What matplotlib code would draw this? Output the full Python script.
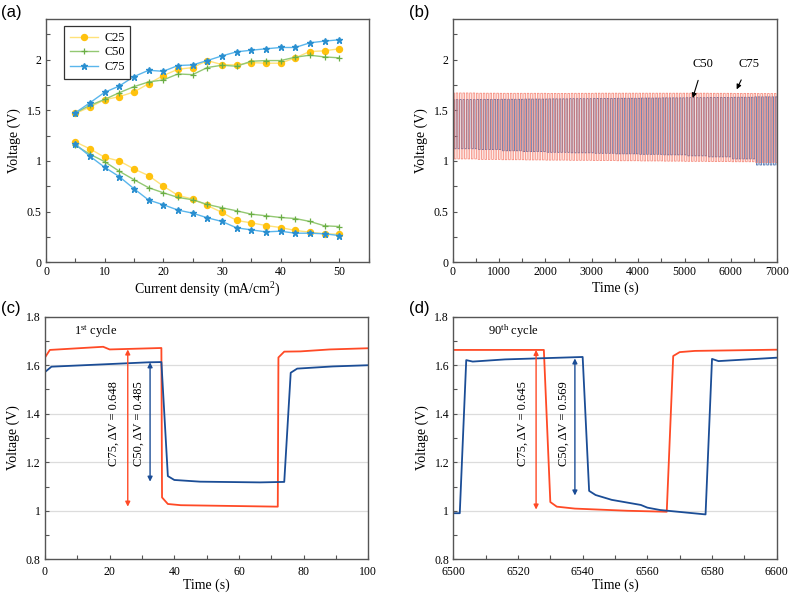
import numpy as np
import matplotlib
matplotlib.use("Agg")
import matplotlib.pyplot as plt
from matplotlib.ticker import MultipleLocator, FuncFormatter

plt.rcParams['font.family'] = ['Liberation Serif', 'DejaVu Serif']
plt.rcParams['mathtext.fontset'] = 'custom'
plt.rcParams['mathtext.rm'] = 'Liberation Serif'
plt.rcParams['mathtext.it'] = 'Liberation Serif:italic'

# ---- (a) polarization data ----
current_density = [5, 7.5, 10, 12.5, 15, 17.5, 20, 22.5, 25, 27.5, 30,
                   32.5, 35, 37.5, 40, 42.5, 45, 47.5, 50]
c25_charge = [1.469, 1.531, 1.604, 1.634, 1.680, 1.762, 1.842, 1.904, 1.921, 1.990,
              1.950, 1.947, 1.970, 1.964, 1.964, 2.017, 2.079, 2.086, 2.106]
c50_charge = [1.475, 1.548, 1.607, 1.673, 1.733, 1.779, 1.799, 1.858, 1.851, 1.921,
              1.944, 1.934, 1.983, 1.990, 1.990, 2.023, 2.043, 2.026, 2.017]
c75_charge = [1.475, 1.574, 1.677, 1.739, 1.832, 1.894, 1.884, 1.941, 1.947, 1.990,
              2.036, 2.076, 2.092, 2.106, 2.119, 2.119, 2.165, 2.182, 2.195]
c25_discharge = [1.188, 1.119, 1.036, 1.000, 0.921, 0.855, 0.752, 0.660, 0.624, 0.561,
                 0.492, 0.413, 0.389, 0.363, 0.343, 0.314, 0.297, 0.281, 0.277]
c50_discharge = [1.155, 1.066, 0.993, 0.898, 0.815, 0.736, 0.686, 0.640, 0.617, 0.571,
                 0.538, 0.508, 0.475, 0.459, 0.442, 0.432, 0.403, 0.360, 0.353]
c75_discharge = [1.165, 1.046, 0.937, 0.845, 0.726, 0.614, 0.568, 0.515, 0.485, 0.439,
                 0.403, 0.340, 0.320, 0.300, 0.307, 0.287, 0.287, 0.281, 0.264]

# ---- (b) long cycling: levels per 500 s block ----
block_start = [0, 500, 1000, 1500, 2000, 2500, 3000, 3500, 4000, 4500,
               5000, 5500, 6000, 6500]
c75_high = [1.670, 1.668, 1.667, 1.667, 1.666, 1.667, 1.668, 1.668, 1.668, 1.668,
            1.668, 1.667, 1.666, 1.665]
c75_low = [1.020, 1.015, 1.012, 1.010, 1.008, 1.006, 1.004, 1.002, 1.000, 0.998,
           0.996, 0.994, 0.992, 0.985]
c50_high = [1.605, 1.607, 1.608, 1.610, 1.612, 1.614, 1.616, 1.618, 1.620, 1.622,
            1.624, 1.626, 1.628, 1.632]
c50_low = [1.120, 1.112, 1.100, 1.092, 1.085, 1.080, 1.075, 1.070, 1.065, 1.060,
           1.050, 1.040, 1.020, 0.960]
c75_half_period = 36.5
c50_half_period = 37.0

# ---- (c) 1st cycle ----
c75_t1 = [0, 1.5, 18, 20, 36, 36.2, 38, 42, 72, 72.2, 74, 79, 88, 100]
c75_v1 = [1.632, 1.663, 1.676, 1.665, 1.671, 1.055, 1.028, 1.023, 1.017, 1.632,
          1.656, 1.657, 1.665, 1.670]
c50_t1 = [0, 2, 32, 36, 38, 40, 48, 66.5, 74, 76, 78, 89, 100]
c50_v1 = [1.572, 1.594, 1.612, 1.613, 1.143, 1.127, 1.120, 1.117, 1.119, 1.569,
          1.586, 1.595, 1.600]

# ---- (d) 90th cycle ----
c75_t90 = [6500, 6528, 6530, 6532, 6537.6, 6554, 6566, 6568, 6570, 6574.7, 6600]
c75_v90 = [1.663, 1.663, 1.036, 1.017, 1.009, 1.000, 0.996, 1.638, 1.654, 1.659, 1.664]
c50_t90 = [6500, 6502, 6504, 6506, 6516, 6540, 6542, 6544, 6549, 6558, 6560, 6564,
           6578, 6580, 6582, 6600]
c50_v90 = [0.990, 0.990, 1.621, 1.615, 1.624, 1.634, 1.082, 1.065, 1.045, 1.024,
           1.013, 1.003, 0.985, 1.626, 1.617, 1.631]

RED = '#ff4a26'
BLUE = '#1b4d96'
SPINE = '#555555'
TICK_FS = 8.5
LAB_FS = 10


def style_axes(ax):
    for s in ax.spines.values():
        s.set_color(SPINE)
        s.set_linewidth(1.0)
    ax.tick_params(which='both', direction='in', length=3, width=0.8,
                   color=SPINE, labelsize=TICK_FS, pad=3)


def square_wave(t_end, half, high, low, start_high=True):
    # build a charge/discharge trace from the block levels
    ts, vs = [], []
    t = 0.0
    charging = start_high
    while t < t_end:
        idx = min(int(t // 500), len(block_start) - 1)
        level = high[idx] if charging else low[idx]
        ts += [t + 1.5, t + half]
        vs += [level, level]
        t += half
        charging = not charging
    return np.array(ts), np.array(vs)


fig = plt.figure(figsize=(7.89, 5.93), dpi=100)
W, H = 789, 593


def px_axes(x0, y0, x1, y1):
    return fig.add_axes([x0 / W, (H - y1) / H, (x1 - x0) / W, (y1 - y0) / H])


# (a)
ax = px_axes(46, 19, 368.5, 262.3)
sty25 = dict(marker='o', color='#ffe27a', mfc='#ffc20e', mec='#ffc20e', ms=4.3, lw=1.0)
sty50 = dict(marker='+', color='#93c872', mec='#6aae45', ms=5, mew=0.9, lw=1.0)
sty75 = dict(marker='*', color='#5ab6ec', mec='#2a8fd0', mfc='#2a8fd0', ms=4.5, lw=1.0)
ax.plot(current_density, c25_charge, label='C25', **sty25)
ax.plot(current_density, c50_charge, label='C50', **sty50)
ax.plot(current_density, c75_charge, label='C75', **sty75)
ax.plot(current_density, c25_discharge, **sty25)
ax.plot(current_density, c50_discharge, **sty50)
ax.plot(current_density, c75_discharge, **sty75)
ax.set_xlim(0, 55)
ax.set_ylim(0, 2.4)
ax.xaxis.set_major_locator(MultipleLocator(10))
ax.xaxis.set_minor_locator(MultipleLocator(5))
ax.yaxis.set_minor_locator(MultipleLocator(0.25))
ax.set_yticks([0, 0.5, 1, 1.5, 2])
ax.set_yticklabels(['0', '0.5', '1', '1.5', '2'])
ax.set_xlabel('Current density (mA/cm$^2$)', fontsize=LAB_FS, labelpad=2)
ax.set_ylabel('Voltage (V)', fontsize=LAB_FS, labelpad=4)
leg = ax.legend(loc='upper left', bbox_to_anchor=(0.056, 0.97), borderaxespad=0,
                fontsize=8.8, fancybox=False, edgecolor='#333333', framealpha=1,
                handlelength=2.3, handletextpad=0.55, borderpad=0.45, labelspacing=0.22)
leg.get_frame().set_linewidth(0.9)
style_axes(ax)

# (b)
ax = px_axes(452.7, 19, 777.3, 262.3)
tb, vb = square_wave(7000, c50_half_period, c50_high, c50_low)
tr, vr = square_wave(7000, c75_half_period, c75_high, c75_low)
ax.plot(tb, vb, color='#4a70ae', lw=0.6)
ax.plot(tr, vr, color='#f4715f', lw=0.6, alpha=0.8)
ax.set_xlim(0, 7000)
ax.set_ylim(0, 2.4)
ax.xaxis.set_major_locator(MultipleLocator(1000))
ax.xaxis.set_minor_locator(MultipleLocator(500))
ax.yaxis.set_minor_locator(MultipleLocator(0.25))
ax.set_yticks([0, 0.5, 1, 1.5, 2])
ax.set_yticklabels(['0', '0.5', '1', '1.5', '2'])
ax.set_xlabel('Time (s)', fontsize=LAB_FS, labelpad=2)
ax.set_ylabel('Voltage (V)', fontsize=LAB_FS, labelpad=4)
ax.annotate('C50', xy=(5175, 1.62), xytext=(5404, 1.96), fontsize=9, ha='center', va='center',
            arrowprops=dict(arrowstyle='-|>', color='black', lw=0.8, shrinkA=6, shrinkB=0,
                            mutation_scale=7))
ax.annotate('C75', xy=(6124, 1.706), xytext=(6390, 1.96), fontsize=9, ha='center', va='center',
            arrowprops=dict(arrowstyle='-|>', color='black', lw=0.8, shrinkA=6, shrinkB=0,
                            mutation_scale=7))
style_axes(ax)


def cycle_panel(ax, t75, v75, t50, v50, xlim, xmajor, xminor):
    ax.plot(t75, v75, color=RED, lw=1.3)
    ax.plot(t50, v50, color=BLUE, lw=1.3)
    ax.set_xlim(*xlim)
    ax.set_ylim(0.8, 1.8)
    ax.xaxis.set_major_locator(MultipleLocator(xmajor))
    ax.xaxis.set_minor_locator(MultipleLocator(xminor))
    ax.yaxis.set_major_locator(MultipleLocator(0.2))
    ax.yaxis.set_minor_locator(MultipleLocator(0.1))
    ax.yaxis.set_major_formatter(FuncFormatter(lambda v, p: '%g' % round(v, 1)))
    for g in [1.0, 1.2, 1.4, 1.6]:
        ax.axhline(g, color='#dcdcdc', lw=0.9, zorder=0)
    ax.set_xlabel('Time (s)', fontsize=LAB_FS, labelpad=1)
    ax.set_ylabel('Voltage (V)', fontsize=LAB_FS, labelpad=4)
    style_axes(ax)
    ax.tick_params(axis='x', which='both', pad=4.5)


def dv_arrow(ax, x, y0, y1, color, text, tx):
    ax.annotate('', xy=(x, y1), xytext=(x, y0),
                arrowprops=dict(arrowstyle='<|-|>', color=color, lw=1.0,
                                mutation_scale=7, shrinkA=0, shrinkB=0))
    ax.text(tx, 1.36, text, rotation=90, ha='center', va='center', fontsize=9)


# (c)
ax = px_axes(45, 316.7, 368.3, 559.3)
cycle_panel(ax, c75_t1, c75_v1, c50_t1, c50_v1, (0, 100), 20, 10)
dv_arrow(ax, 25.6, 1.665, 1.017, RED, 'C75, ΔV = 0.648', 21.2)
dv_arrow(ax, 32.5, 1.612, 1.120, BLUE, 'C50, ΔV = 0.485', 29.0)
ax.text(9.0, 1.738, '1$^{\\rm st}$ cycle', fontsize=9, va='center')

# (d)
ax = px_axes(453.3, 316.7, 776.7, 559.3)
cycle_panel(ax, c75_t90, c75_v90, c50_t90, c50_v90, (6500, 6600), 20, 10)
dv_arrow(ax, 6525.6, 1.663, 1.005, RED, 'C75, ΔV = 0.645', 6521.6)
dv_arrow(ax, 6537.6, 1.628, 1.063, BLUE, 'C50, ΔV = 0.569', 6534.0)
ax.text(6510.6, 1.738, '90$^{\\rm th}$ cycle', fontsize=9, va='center')

# panel letters
for lab, x, y in [('(a)', 11, 12), ('(b)', 419, 12), ('(c)', 11, 308), ('(d)', 419, 308)]:
    fig.text(x / W, 1 - y / H, lab, fontsize=12, family='Liberation Sans',
             ha='center', va='center')

fig.savefig('out.png', dpi=100)
